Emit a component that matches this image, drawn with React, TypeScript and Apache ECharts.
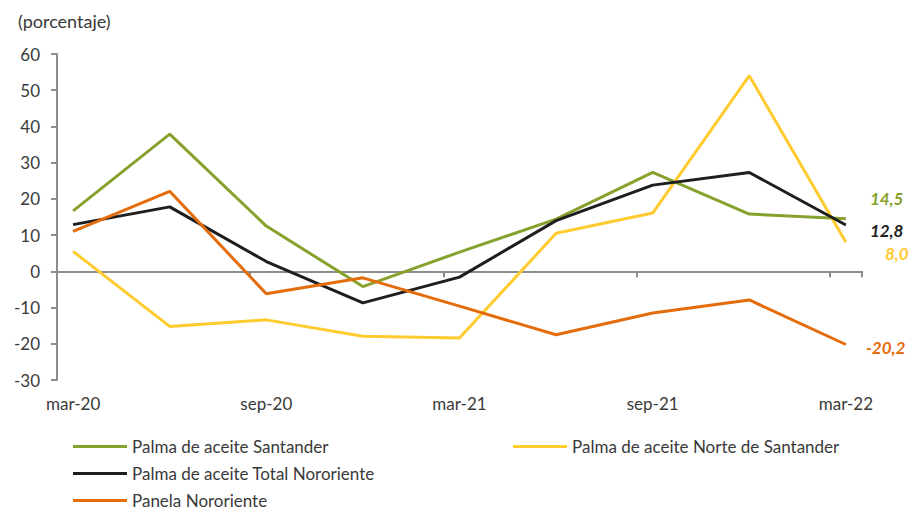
import React, { useEffect, useRef } from "react";
import * as echarts from "echarts";

const months = [
  "mar-20", "abr-20", "may-20", "jun-20", "jul-20", "ago-20", "sep-20", "oct-20", "nov-20",
  "dic-20", "ene-21", "feb-21", "mar-21", "abr-21", "may-21", "jun-21", "jul-21", "ago-21",
  "sep-21", "oct-21", "nov-21", "dic-21", "ene-22", "feb-22", "mar-22",
];
const quarters = ["mar-20", "jun-20", "sep-20", "dic-20", "mar-21", "jun-21", "sep-21", "dic-21", "mar-22"];

const santander = [16.7, 37.9, 12.5, -4.2, 5.3, 14.4, 27.3, 15.8, 14.5];
const norteSantander = [5.5, -15.2, -13.4, -17.9, -18.4, 10.5, 16.1, 54.0, 8.0];
const totalNororiente = [12.9, 17.8, 2.7, -8.7, -1.6, 14.0, 23.8, 27.3, 12.8];
const panela = [11.0, 22.1, -6.2, -1.8, -9.6, -17.5, -11.5, -7.9, -20.2];

const yTicks = { min: -30, max: 60, interval: 10 };

const FONT = "Lato, 'Open Sans', sans-serif";
const TXT = "#3a3a3a";
const AXIS = "#8c8c8c";

const toMonthly = (vals: number[]) =>
  months.map((m) => {
    const i = quarters.indexOf(m);
    return i >= 0 ? vals[i] : null;
  });

const fmt = (v: number) => v.toFixed(1).replace(".", ",");

export default function App() {
  const ref = useRef<HTMLDivElement>(null);
  useEffect(() => {
    if (!ref.current) return;
    const chart = echarts.init(ref.current, null, { renderer: "svg" });
    const mk = (name: string, vals: number[], color: string, offset: [number, number]) => ({
      name,
      type: "line",
      xAxisIndex: 0,
      data: toMonthly(vals),
      connectNulls: true,
      showSymbol: false,
      symbol: "none",
      lineStyle: { color, width: 3 },
      itemStyle: { color },
      endLabel: {
        show: true,
        formatter: () => fmt(vals[vals.length - 1]),
        distance: 0,
        offset,
        align: "left",
        verticalAlign: "middle",
        color,
        fontStyle: "italic",
        fontWeight: "bold",
        fontSize: 17,
        fontFamily: FONT,
      },
    });
    const legendCommon = {
      icon: "rect",
      itemWidth: 54,
      itemHeight: 3,
      itemGap: 4,
      padding: 0,
      textStyle: { color: TXT, fontSize: 17, fontFamily: FONT },
    };
    chart.setOption({
      animation: false,
      backgroundColor: "#ffffff",
      textStyle: { fontFamily: FONT },
      title: {
        text: "(porcentaje)",
        left: 13,
        top: 7,
        textStyle: { color: TXT, fontSize: 18, fontWeight: "normal", fontFamily: FONT },
      },
      grid: { left: 57, right: 49, top: 54, bottom: 132, containLabel: false },
      legend: [
        { ...legendCommon, left: 73, top: 438, data: ["Palma de aceite Santander"] },
        { ...legendCommon, left: 513, top: 438, data: ["Palma de aceite Norte de Santander"] },
        { ...legendCommon, left: 73, top: 465, data: ["Palma de aceite Total Nororiente"] },
        { ...legendCommon, left: 73, top: 492, data: ["Panela Nororiente"] },
      ],
      xAxis: [
        {
          type: "category",
          data: months,
          boundaryGap: true,
          position: "bottom",
          axisLine: { show: true, onZero: true, lineStyle: { color: AXIS, width: 2 } },
          axisTick: { show: true, interval: 5, length: 6, alignWithLabel: false, lineStyle: { color: AXIS, width: 2 } },
          axisLabel: { show: false },
          splitLine: { show: false },
        },
        {
          type: "category",
          data: months,
          boundaryGap: true,
          position: "bottom",
          axisLine: { show: false, onZero: false },
          axisTick: { show: false },
          axisLabel: { show: true, interval: 5, margin: 15, color: TXT, fontSize: 17, fontFamily: FONT },
          splitLine: { show: false },
        },
      ],
      yAxis: {
        type: "value",
        min: yTicks.min,
        max: yTicks.max,
        interval: yTicks.interval,
        axisLine: { show: true, lineStyle: { color: AXIS, width: 2 } },
        axisTick: { show: true, length: 6, lineStyle: { color: AXIS, width: 2 } },
        axisLabel: { color: TXT, fontSize: 17, margin: 17, fontFamily: FONT },
        splitLine: { show: false },
      },
      series: [
        mk("Palma de aceite Santander", santander, "#86A22C", [24, -20]),
        mk("Palma de aceite Norte de Santander", norteSantander, "#FFCB2F", [39, 11]),
        mk("Palma de aceite Total Nororiente", totalNororiente, "#1E1E1E", [24, 6]),
        mk("Panela Nororiente", panela, "#E46C0A", [20, 3]),
      ],
    });
    return () => chart.dispose();
  }, []);
  return <div ref={ref} style={{ position: "fixed", left: 0, top: 0, width: 911, height: 512 }} />;
}
